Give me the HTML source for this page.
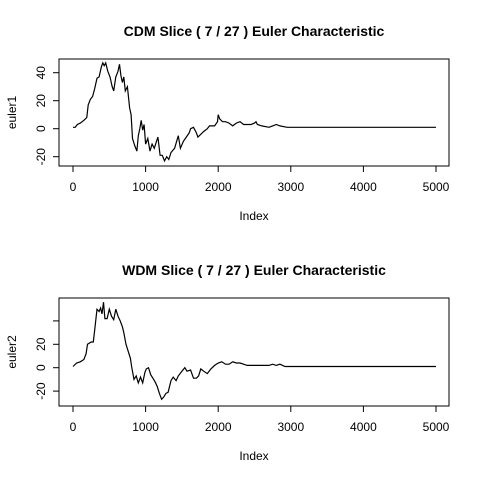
<!DOCTYPE html>
<html><head><meta charset="utf-8"><style>
html,body{margin:0;padding:0;background:#fff}
svg{display:block;font-family:"Liberation Sans",sans-serif}
</style></head><body>
<svg id="c" width="480" height="480"></svg>
<script>
const xTicks=[0,1000,2000,3000,4000,5000];
const idx1=[0,30,60,100,150,190,210,240,270,300,330,360,390,410,430,450,480,510,540,560,590,620,640,660,680,700,720,750,780,800,820,850,880,900,920,940,960,980,1000,1030,1060,1090,1120,1150,1170,1200,1230,1260,1290,1320,1350,1400,1450,1480,1520,1560,1600,1620,1660,1700,1720,1760,1800,1850,1880,1950,1990,2000,2020,2060,2100,2150,2200,2250,2300,2350,2400,2450,2500,2520,2540,2600,2700,2750,2800,2850,2950,5000];
const euler1=[1,1,3,4,6,8,17,21,23,29,36,37,44,47,45,47,41,37,30,27,37,41,46,38,33,37,27,30,15,10,-7,-12,-16,-5,0,6,-1,3,-11,-7,-16,-11,-14,-9,-6,-19,-19,-23,-20,-22,-17,-14,-5,-14,-9,-6,-3,0,1,-3,-6,-4,-2,0,2,2,5,10,7,5,5,4,2,4,5,3,3,3,4,5,3,2,1,2,3,2,1,1];
const idx2=[0,50,100,150,180,200,250,280,300,330,360,380,400,420,440,470,500,530,560,590,620,650,680,700,730,760,790,810,840,870,900,930,960,990,1010,1040,1070,1100,1130,1160,1190,1220,1250,1280,1310,1350,1380,1420,1450,1500,1540,1570,1620,1660,1700,1730,1760,1800,1850,1900,1950,2000,2050,2100,2150,2200,2250,2300,2350,2400,2500,2600,2700,2750,2800,2850,2920,5000];
const euler2=[1,4,5,7,12,20,22,22,33,50,48,51,46,56,42,42,50,44,41,50,44,40,35,30,20,14,8,0,-10,-7,-13,-8,-13,-4,-1,0,-6,-9,-12,-16,-22,-27,-25,-22,-21,-11,-8,-11,-7,-3,0,-3,-2,-9,-9,-7,-1,-3,-5,-1,2,4,5,3,3,5,4,4,3,2,2,2,2,3,2,3,1,1];
const yTicks1=[-20,0,20,40], yLabels1=["-20","0","20","40"];
const yTicks2=[-20,0,20,40], yLabels2=["-20","0","20",""];
const svg=document.getElementById('c');
const NS='http://www.w3.org/2000/svg';
function mk(t,a,p){const e=document.createElementNS(NS,t);for(const k in a)e.setAttribute(k,a[k]);(p||svg).appendChild(e);return e;}
function panel(o){
  const g=mk('g',{});
  
  
  const X=v=>73+v*(363/5000);
  const Y=v=>o.y0-v*o.k;
  const box=mk('rect',{x:59,y:o.top,width:390,height:o.bot-o.top,fill:'none',stroke:'#000'},g);
  
  const t=mk('text',{x:254,y:o.top-23,'text-anchor':'middle','font-size':14,'font-weight':'bold'},g);t.textContent=o.title;
  
  xTicks.forEach(v=>{
    mk('line',{x1:X(v),x2:X(v),y1:o.bot,y2:o.bot+6,stroke:'#000'},g);
    const l=mk('text',{x:X(v),y:o.bot+25,'text-anchor':'middle','font-size':12},g);l.textContent=v;
    
  });
  mk('line',{x1:X(0),x2:X(5000),y1:o.bot,y2:o.bot,stroke:'#000'},g);
  o.yt.forEach((v,i)=>{
    mk('line',{x1:53,x2:59,y1:Y(v),y2:Y(v),stroke:'#000'},g);
    const l=mk('text',{x:0,y:0,'text-anchor':'middle','font-size':12,transform:`translate(45,${Y(v)}) rotate(-90)`},g);l.textContent=o.yl[i];
    
  });
  mk('line',{x1:59,x2:59,y1:Y(o.yt[0]),y2:Y(o.yt[o.yt.length-1]),stroke:'#000'},g);
  const xl=mk('text',{x:254,y:o.bot+54,'text-anchor':'middle','font-size':12},g);xl.textContent='Index';
  
  const yl=mk('text',{x:0,y:0,'text-anchor':'middle','font-size':12,transform:`translate(16,${(o.top+o.bot)/2}) rotate(-90)`},g);yl.textContent=o.ylab;
  
  const pts=o.xs.map((x,i)=>X(x).toFixed(1)+','+Y(o.ys[i]).toFixed(1)).join(' ');
  const pl=mk('polyline',{points:pts,fill:'none',stroke:'#000','stroke-width':1.2},g);
  
}
panel({name:'cdm-panel',title:'CDM Slice ( 7 / 27 ) Euler Characteristic',top:59,bot:166,y0:128.7,k:1.4,xs:idx1,ys:euler1,yt:yTicks1,yl:yLabels1,ylab:'euler1'});
panel({name:'wdm-panel',title:'WDM Slice ( 7 / 27 ) Euler Characteristic',top:298,bot:406,y0:367.7,k:1.17,xs:idx2,ys:euler2,yt:yTicks2,yl:yLabels2,ylab:'euler2'});
</script>
</body></html>
